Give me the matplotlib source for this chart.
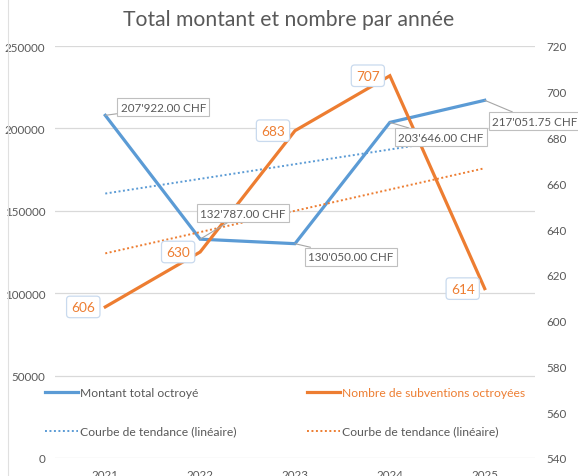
import numpy as np
import matplotlib
matplotlib.use("Agg")
import matplotlib.pyplot as plt
from matplotlib.lines import Line2D

years = ["2021", "2022", "2023", "2024", "2025"]
montant = [207922.00, 132787.00, 130050.00, 203646.00, 217051.75]
nombre = [606, 630, 683, 707, 614]
montant_labels = ["207'922.00 CHF", "132'787.00 CHF", "130'050.00 CHF", "203'646.00 CHF", "217'051.75 CHF"]
left_ticks = [0, 50000, 100000, 150000, 200000, 250000]
right_ticks = [540, 560, 580, 600, 620, 640, 660, 680, 700, 720]

BLUE = "#5B9BD5"
ORANGE = "#ED7D31"
GRAY = "#595959"
GRID = "#D9D9D9"

plt.rcParams['font.family'] = ['Lato', 'DejaVu Sans']

W, H = 578, 477
fig = plt.figure(figsize=(W / 100, H / 100), dpi=100)
ax = fig.add_axes([55 / W, 1 - 459 / H, 480 / W, 412 / H])
ax2 = ax.twinx()

x = np.arange(len(years))

# gridlines
ax.set_ylim(0, 250000)
ax.set_yticks(left_ticks)
ax.yaxis.grid(True, color=GRID, lw=0.9)
ax.set_axisbelow(True)
ax2.set_ylim(540, 720)
ax2.set_yticks(right_ticks)
ax.set_xlim(-0.53, 4.53)
ax.set_xticks(x)
ax.set_xticklabels(years)

for a in (ax, ax2):
    for s in a.spines.values():
        s.set_visible(False)
    a.tick_params(length=0, labelsize=8.4, labelcolor=GRAY)
ax.tick_params(axis='y', pad=7)
ax2.tick_params(axis='y', pad=8)
ax.tick_params(axis='x', pad=8)

# trend lines
cb = np.polyfit(x, montant, 1)
co = np.polyfit(x, nombre, 1)
ax.plot(x, np.polyval(cb, x), color=BLUE, lw=1.4, ls=(0, (1, 1.3)), zorder=2)
ax2.plot(x, np.polyval(co, x), color=ORANGE, lw=1.4, ls=(0, (1, 1.3)), zorder=2)

# main lines
ax.plot(x, montant, color=BLUE, lw=2.3, solid_joinstyle='miter', zorder=3)
ax2.plot(x, nombre, color=ORANGE, lw=2.3, solid_joinstyle='miter', zorder=3)

# blue data labels
offs_b = [(58, 8), (43, 26), (56, -13), (51, -15), (50, -21)]
for xi, v, lab, off in zip(x, montant, montant_labels, offs_b):
    ax2.annotate(lab, xy=(xi, 540 + (v / 250000) * 180), xytext=off, textcoords='offset pixels',
                 ha='center', va='center', fontsize=8.4, color=GRAY, zorder=5,
                 bbox=dict(boxstyle='square,pad=0.3', fc='white', ec='#BFBFBF', lw=0.8),
                 arrowprops=dict(arrowstyle='-', color='#A6A6A6', lw=0.8, shrinkA=0, shrinkB=0))

# orange data labels
for xi, v in zip(x, nombre):
    ax2.annotate(str(v), xy=(xi, v), xytext=(-22, 0), textcoords='offset pixels',
                 ha='center', va='center', fontsize=9.8, color=ORANGE, zorder=5,
                 bbox=dict(boxstyle='round,pad=0.35,rounding_size=0.25', fc='white', ec='#C9DAEE', lw=0.9))

# title
fig.text(0.5, 1 - 20 / H, "Total montant et nombre par année", ha='center', va='center',
         fontsize=15.2, color=GRAY)

# legends
h1 = [Line2D([], [], color=BLUE, lw=2.3), Line2D([], [], color=BLUE, lw=1.4, ls=(0, (1, 1.3)))]
h2 = [Line2D([], [], color=ORANGE, lw=2.3), Line2D([], [], color=ORANGE, lw=1.4, ls=(0, (1, 1.3)))]
labs = ["Montant total octroyé", "Courbe de tendance (linéaire)"]
labs2 = ["Nombre de subventions octroyées", "Courbe de tendance (linéaire)"]
kw = dict(loc='upper left', bbox_transform=fig.transFigure, frameon=False, fontsize=8.7,
          handlelength=2.7, handletextpad=0.2, labelspacing=2.3, borderpad=0, borderaxespad=0)
lg1 = fig.legend(h1, labs, bbox_to_anchor=(45 / W, 1 - 388 / H), **kw)
lg2 = fig.legend(h2, labs2, bbox_to_anchor=(307 / W, 1 - 388 / H), **kw)
for t in lg1.get_texts():
    t.set_color(GRAY)
lg2.get_texts()[0].set_color(ORANGE)
lg2.get_texts()[1].set_color(GRAY)

# left border line
fig.add_artist(Line2D([7.5 / W, 7.5 / W], [0, 1], transform=fig.transFigure, color='#E0E0E0', lw=0.8))

fig.savefig("out.png", dpi=100)
